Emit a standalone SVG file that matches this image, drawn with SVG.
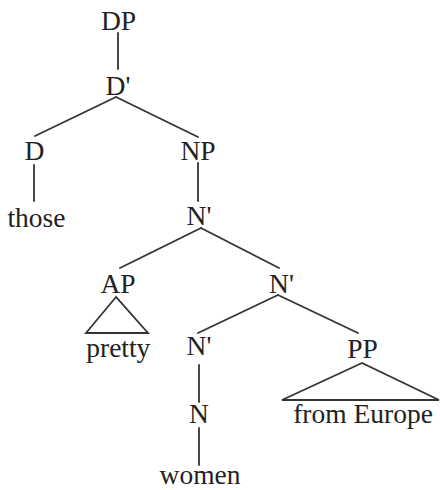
<svg xmlns="http://www.w3.org/2000/svg" width="440" height="490" viewBox="0 0 440 490">
  <style>
    .lbl { font-family: "Liberation Serif", "Times New Roman", serif; font-size: 27.5px; fill: #222; text-anchor: middle; }
    .edge { stroke: #333; stroke-width: 1.8; fill: none; stroke-linecap: round; }
  </style>
  <rect width="440" height="490" fill="#fff"/>

  <!-- branches of the tree -->
  <g id="connectors" class="edge">
    <line x1="118" y1="33" x2="118" y2="69"/>
    <line x1="116" y1="97" x2="35" y2="136"/>
    <line x1="116" y1="97" x2="198" y2="137"/>
    <line x1="34" y1="165" x2="34" y2="201"/>
    <line x1="198" y1="163" x2="198" y2="201"/>
    <line x1="201" y1="228" x2="120" y2="268"/>
    <line x1="201" y1="228" x2="279" y2="268"/>
    <line x1="278" y1="295" x2="198" y2="333"/>
    <line x1="278" y1="295" x2="358" y2="333"/>
    <line x1="199" y1="365" x2="199" y2="402"/>
    <line x1="199" y1="428" x2="199" y2="465"/>
    <polygon points="116,297 86,333 148,333"/>
    <polygon points="362,363 282,400 439,400"/>
  </g>

  <g id="DP"><text class="lbl" x="118.5" y="30">DP</text></g>
  <g id="Dbar"><text class="lbl" x="118" y="95">D'</text></g>
  <g id="D"><text class="lbl" x="34.5" y="160">D</text></g>
  <g id="those"><text class="lbl" x="36.5" y="227">those</text></g>
  <g id="NP"><text class="lbl" x="198" y="160">NP</text></g>
  <g id="Nbar1"><text class="lbl" x="199" y="225">N'</text></g>
  <g id="AP"><text class="lbl" x="118" y="293">AP</text></g>
  <g id="pretty"><text class="lbl" x="118.3" y="357">pretty</text></g>
  <g id="Nbar2"><text class="lbl" x="281.5" y="293">N'</text></g>
  <g id="Nbar3"><text class="lbl" x="199" y="355">N'</text></g>
  <g id="N"><text class="lbl" x="199" y="423">N</text></g>
  <g id="women"><text class="lbl" x="200" y="484">women</text></g>
  <g id="PP"><text class="lbl" x="362.5" y="358">PP</text></g>
  <g id="fromEurope"><text class="lbl" x="363" y="423">from Europe</text></g>
</svg>
